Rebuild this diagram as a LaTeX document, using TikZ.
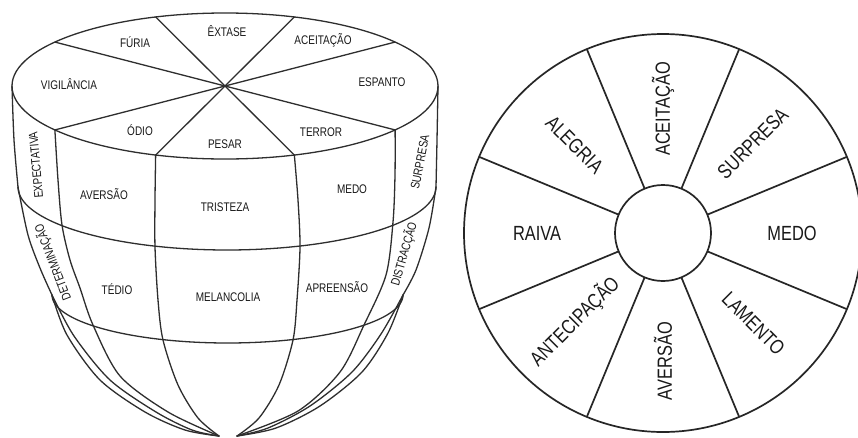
\documentclass[tikz,border=0pt]{standalone}
\usepackage{fontspec}
\setmainfont{Liberation Sans}[FakeStretch=0.8]
\usetikzlibrary{calc}
\begin{document}
\begin{tikzpicture}[x=1pt,y=-1pt,
  ln/.style={line width=1.3pt, draw=black!82, line join=round, line cap=round},
  wl/.style={line width=1.7pt, draw=black!85},
  sl/.style={font=\fontsize{12.5}{14}\selectfont, text=black!90, inner sep=0pt},
  wt/.style={font=\fontsize{20.5}{24}\selectfont, text=black!90, inner sep=0pt}]
\useasboundingbox (0,0) rectangle (858,437);
\fill[white] (0,0) rectangle (858,437);
\begin{scope}
\clip (0,0) rectangle (858,437);
% ---------- left figure ----------
\draw[ln] (225,86) ellipse [x radius=213, y radius=73];
\foreach \a in {37,71,109,143,217,251,289,323}
  \coordinate (p\a) at ({225+213*cos(\a)},{86-73*sin(\a)});
\draw[ln] (p37)--(p217);
\draw[ln] (p71)--(p251);
\draw[ln] (p109)--(p289);
\draw[ln] (p143)--(p323);
% rings
\draw[ln] plot[domain=180:360,samples=80] ({227+209*cos(\x)},{187-63*sin(\x)});
\draw[ln] plot[domain=180:360,samples=80] ({227.5+175.5*cos(\x)},{295-48*sin(\x)});
% left outline
\draw[ln] plot[smooth] coordinates {(12,86) (14,140) (18,187)};
\draw[ln] plot[smooth] coordinates {(18,187) (28,235) (40,268) (52,295)};
\draw[ln] plot[smooth] coordinates {(52,295) (67,335) (100,380) (145,412) (185,430) (219,436)};
\draw[ln] plot[smooth] coordinates {(52,295) (74,336) (110,380) (156,412) (192,430) (219,436)};
% meridians
\draw[ln] plot[smooth] coordinates {(p217) (58,180) (62,225) (70,260) (80,288) (93,325) (120,376) (168,412) (219,436)};
\draw[ln] plot[smooth] coordinates {(p251) (155,200) (155,247) (158,300) (163,340) (178,385) (198,418) (219,436)};
\draw[ln] plot[smooth] coordinates {(p289) (298,200) (300,247) (297,300) (293,340) (279,385) (259,418) (237,436)};
\draw[ln] plot[smooth] coordinates {(p323) (395,175) (393,222) (386,275) (364,325) (340,372) (298,411) (237,436)};
% right outline
\draw[ln] plot[smooth] coordinates {(438,86) (437,140) (436,187)};
\draw[ln] plot[smooth] coordinates {(436,187) (429,228) (416,270) (403,295)};
\draw[ln] plot[smooth] coordinates {(403,295) (388,333) (362,372) (320,406) (276,428) (237,436)};
\draw[ln] plot[smooth] coordinates {(403,295) (381,334) (352,372) (310,406) (268,428) (237,436)};
% labels top
\node[sl] (extase) at (227,31) {ÊXTASE};
\node[sl] (furia) at (135,42) {FÚRIA};
\node[sl] (aceit) at (323,40) {ACEITAÇÃO};
\node[sl] (vigil) at (69,84) {VIGILÂNCIA};
\node[sl] (espanto) at (382,82) {ESPANTO};
\node[sl] (odio) at (140,130) {ÓDIO};
\node[sl] (pesar) at (225,144) {PESAR};
\node[sl] (terror) at (321,132) {TERROR};
% band 1
\node[sl, rotate=95] (expect) at (36,165) {EXPECTATIVA};
\node[sl] (aversao) at (104,194) {AVERSÃO};
\node[sl] (tristeza) at (225,207) {TRISTEZA};
\node[sl] (medo) at (352,189) {MEDO};
\node[sl, rotate=79] (surpresa) at (420,162) {SURPRESA};
% band 2
\node[sl, rotate=111] (determ) at (53,262) {DETERMINAÇÃO};
\node[sl] (tedio) at (117,289) {TÉDIO};
\node[sl] (melanc) at (228,297) {MELANCOLIA};
\node[sl] (apreens) at (337,287) {APREENSÃO};
\node[sl, rotate=74] (distrac) at (404,254) {DISTRACÇÃO};
% ---------- wheel ----------
\node[circle, wl, minimum size=398pt, inner sep=0pt, outer sep=0pt] (W) at (663,233) {};
\node[circle, wl, minimum size=96pt, inner sep=0pt, outer sep=0pt] (I) at (663,233) {};
\foreach \a in {22.5,67.5,112.5,157.5,202.5,247.5,292.5,337.5}
  \draw[wl] ($(I.center)+(\a:48pt)$) -- ($(W.center)+(\a:199pt)$);
\node[wt, rotate=90] (w1) at ($(W.center)+(90:124pt)$) {ACEITAÇÃO};
\node[wt, rotate=45] (w2) at ($(W.center)+(45:127pt)$) {SURPRESA};
\node[wt] (w3) at ($(W.center)+(0:129pt)$) {MEDO};
\node[wt, rotate=-45] (w4) at ($(W.center)+(-45:128pt)$) {LAMENTO};
\node[wt, rotate=90] (w5) at ($(W.center)+(-90:128pt)$) {AVERSÃO};
\node[wt, rotate=45] (w6) at ($(W.center)+(-135:125pt)$) {ANTECIPAÇÃO};
\node[wt] (w7) at ($(W.center)+(180:126pt)$) {RAIVA};
\node[wt, rotate=-45] (w8) at ($(W.center)+(135:125pt)$) {ALEGRIA};
\end{scope}
\end{tikzpicture}
\end{document}
